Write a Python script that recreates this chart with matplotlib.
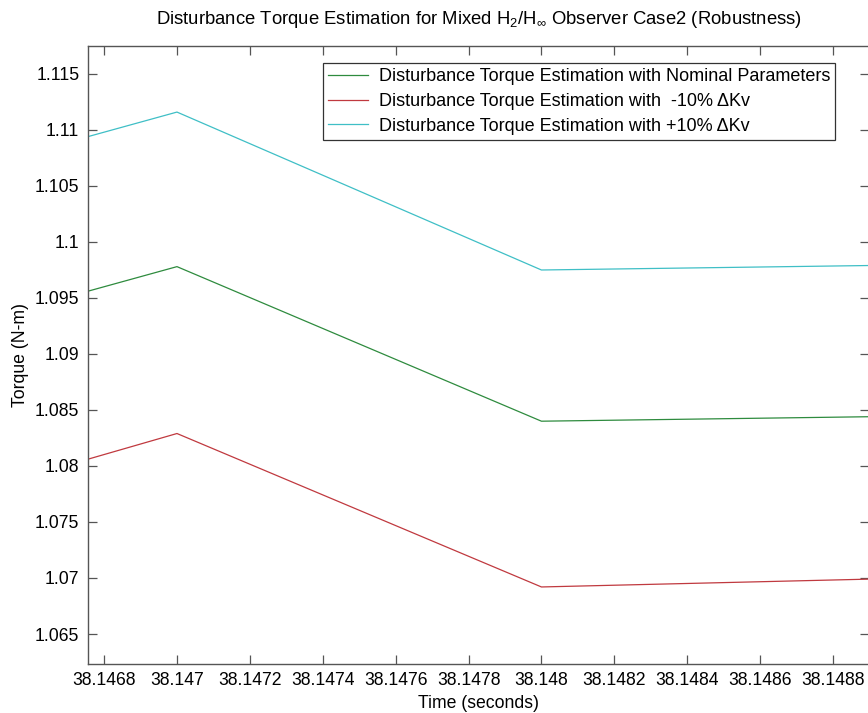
import matplotlib
matplotlib.use("Agg")
import matplotlib.pyplot as plt

plt.rcParams['font.family'] = ['Liberation Sans', 'DejaVu Sans']
plt.rcParams['mathtext.default'] = 'regular'

# Samples (time in seconds, torque in N-m)
time_s = [38.146755, 38.147, 38.148, 38.1489]
torque_nominal = [1.0956, 1.0978, 1.0840, 1.0844]
torque_minus10 = [1.0806, 1.0829, 1.0692, 1.0699]
torque_plus10 = [1.1094, 1.1116, 1.0975, 1.0979]

series_labels = [
    'Disturbance Torque Estimation with Nominal Parameters',
    'Disturbance Torque Estimation with  -10% \u0394Kv',
    'Disturbance Torque Estimation with +10% \u0394Kv',
]
series_colors = ['#2e8b3e', '#c0393f', '#3fbfc6']

x_ticks = [38.1468, 38.147, 38.1472, 38.1474, 38.1476, 38.1478,
           38.148, 38.1482, 38.1484, 38.1486, 38.1488]
x_tick_labels = ['38.1468', '38.147', '38.1472', '38.1474', '38.1476', '38.1478',
                 '38.148', '38.1482', '38.1484', '38.1486', '38.1488']
y_ticks = [1.065, 1.07, 1.075, 1.08, 1.085, 1.09, 1.095, 1.1, 1.105, 1.11, 1.115]
y_tick_labels = ['1.065', '1.07', '1.075', '1.08', '1.085', '1.09',
                 '1.095', '1.1', '1.105', '1.11', '1.115']

fig = plt.figure(figsize=(8.68, 7.13), dpi=100, facecolor='white')
ax = fig.add_axes([0.101, 0.0687, 0.9007, 0.8668])

for vals, lab, col in zip([torque_nominal, torque_minus10, torque_plus10],
                          series_labels, series_colors):
    ax.plot(time_s, vals, color=col, linewidth=0.9, label=lab)

ax.set_xlim(38.146755, 38.1489)
ax.set_ylim(1.06232, 1.1175)
ax.set_xticks(x_ticks)
ax.set_xticklabels(x_tick_labels)
ax.set_yticks(y_ticks)
ax.set_yticklabels(y_tick_labels)

edge = '#555555'
for sp in ax.spines.values():
    sp.set_color(edge)
    sp.set_linewidth(1.0)
ax.tick_params(direction='in', length=6.5, width=0.9, color=edge,
               top=True, right=True, labelsize=12.7, pad=6)

ax.set_xlabel('Time (seconds)', fontsize=12.7, labelpad=4)
ax.set_ylabel('Torque (N-m)', fontsize=12.7, labelpad=4)
ax.set_title(r'Disturbance Torque Estimation for Mixed H$_2$/H$_\infty$ Observer Case2 (Robustness)',
             fontsize=13.3, pad=16)

leg = ax.legend(loc='upper right', bbox_to_anchor=(0.9565, 0.9725), fontsize=13,
                frameon=True, fancybox=False, handlelength=2.2, handletextpad=0.6,
                borderpad=0.3, labelspacing=0.42, borderaxespad=0)
leg.get_frame().set_edgecolor('black')
leg.get_frame().set_linewidth(0.9)

fig.savefig('out.png', dpi=100, facecolor='white')
